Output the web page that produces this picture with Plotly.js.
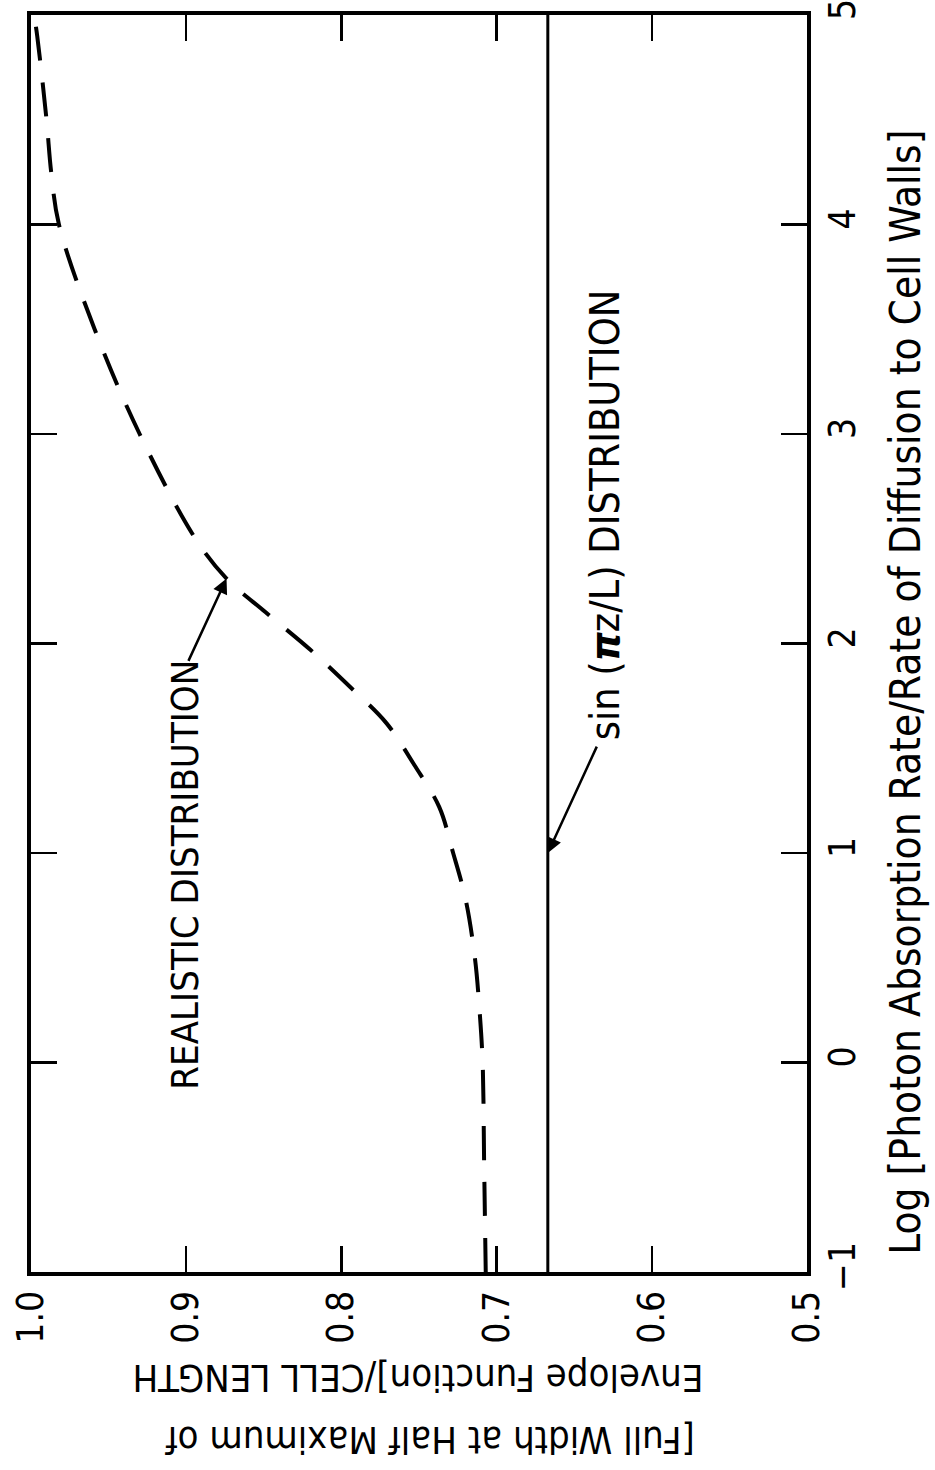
<!DOCTYPE html>
<html><head><meta charset="utf-8">
<script src="https://cdn.plot.ly/plotly-3.0.1.min.js"></script>
<style>html,body{margin:0;padding:0;background:#fff}</style>
</head><body>
<div id="chart" style="width:935px;height:1470px"></div>
<script>
// Log [Photon Absorption Rate / Rate of Diffusion to Cell Walls]
const logRate = [-1, -0.5, 0, 0.25, 0.5, 0.78, 1.0, 1.22, 1.42, 1.62, 1.79, 1.97, 2.15, 2.31, 2.5, 3.0, 3.5, 4.0, 4.25, 4.5, 4.9, 5.0];
// FWHM of envelope function / cell length, realistic distribution
const fwhmRealistic = [0.707, 0.708, 0.709, 0.711, 0.714, 0.720, 0.728, 0.737, 0.753, 0.771, 0.794, 0.820, 0.849, 0.874, 0.894, 0.930, 0.959, 0.982, 0.987, 0.990, 0.996, 0.998];
// sin(pi z / L) distribution
const sinLog = [-1, 5];
const sinFwhm = [0.667, 0.667];
const fwhmTicks = [0.5, 0.6, 0.7, 0.8, 0.9, 1.0];
const fwhmTickText = ['0.5', '0.6', '0.7', '0.8', '0.9', '1.0'];
const logTicks = [-1, 0, 1, 2, 3, 4, 5];
const logTickText = ['\u22121', '0', '1', '2', '3', '4', '5'];

const FONT = 'Liberation Sans Narrow, DejaVu Sans Condensed, Roboto Condensed, Arial Narrow, Liberation Sans, sans-serif';

const traces = [
  {x: fwhmRealistic, y: logRate, type: 'scatter', mode: 'lines',
   line: {color: '#000', width: 4, dash: '34px,22px', shape: 'spline'}, hoverinfo: 'skip'},
  {x: sinFwhm, y: sinLog, type: 'scatter', mode: 'lines',
   line: {color: '#000', width: 3}, hoverinfo: 'skip'}
];

const axisCommon = {
  showline: true, linewidth: 4, linecolor: '#000', mirror: 'ticks',
  ticks: 'inside', ticklen: 26, tickwidth: 2.5, tickcolor: '#000',
  showgrid: false, zeroline: false, tickangle: -90,
  tickfont: {family: FONT, size: 37, color: '#000'},
  ticklabelstandoff: 0, ticklabeloverflow: 'allow'
};

const layout = {
  width: 935, height: 1470,
  margin: {l: 31, r: 128, t: 15, b: 198},
  paper_bgcolor: '#fff', plot_bgcolor: '#fff',
  showlegend: false,
  font: {family: FONT, color: '#000'},
  xaxis: Object.assign({}, axisCommon, {
    range: [1.0, 0.5], tickvals: fwhmTicks, ticktext: fwhmTickText
  }),
  yaxis: Object.assign({}, axisCommon, {
    side: 'right', range: [-1, 5], tickvals: logTicks, ticktext: logTickText
  }),
  annotations: [
    {text: 'REALISTIC DISTRIBUTION', x: 0.901, y: 0.895, xref: 'x', yref: 'y',
     xanchor: 'center', yanchor: 'middle',
     textangle: -90, showarrow: false, font: {family: FONT, size: 38, color: '#000'}},
    {text: 'sin (<b><i>\u03c0</i></b>z/L) DISTRIBUTION', x: 0.630, y: 2.613, xref: 'x', yref: 'y',
     xanchor: 'center', yanchor: 'middle',
     textangle: -90, showarrow: false, font: {family: FONT, size: 41, color: '#000'}},
    {text: '', x: 0.874, y: 2.31, ax: 0.899, ay: 1.91, xref: 'x', yref: 'y', axref: 'x', ayref: 'y',
     showarrow: true, arrowhead: 2, arrowsize: 1.2, arrowwidth: 2.5, arrowcolor: '#000', standoff: 0},
    {text: '', x: 0.667, y: 1.0, ax: 0.635, ay: 1.515, xref: 'x', yref: 'y', axref: 'x', ayref: 'y',
     showarrow: true, arrowhead: 2, arrowsize: 1.2, arrowwidth: 2.5, arrowcolor: '#000', standoff: 0},
    {text: 'Log [Photon Absorption Rate/Rate of Diffusion to Cell Walls]', x: 1.126, y: 0.4614,
     xref: 'paper', yref: 'paper', xanchor: 'center', yanchor: 'middle',
     textangle: -90, showarrow: false,
     font: {family: FONT, size: 42, color: '#000'}},
    {text: 'Envelope Function]/CELL LENGTH', x: 0.499, y: -0.0843,
     xref: 'paper', yref: 'paper', xanchor: 'center', yanchor: 'middle',
     textangle: 180, showarrow: false,
     font: {family: FONT, size: 38, color: '#000'}},
    {text: '[Full Width at Half Maximum of', x: 0.514, y: -0.1341,
     xref: 'paper', yref: 'paper', xanchor: 'center', yanchor: 'middle',
     textangle: 180, showarrow: false,
     font: {family: FONT, size: 38, color: '#000'}}
  ]
};

Plotly.newPlot('chart', traces, layout, {displayModeBar: false, staticPlot: true});
</script>
</body></html>
